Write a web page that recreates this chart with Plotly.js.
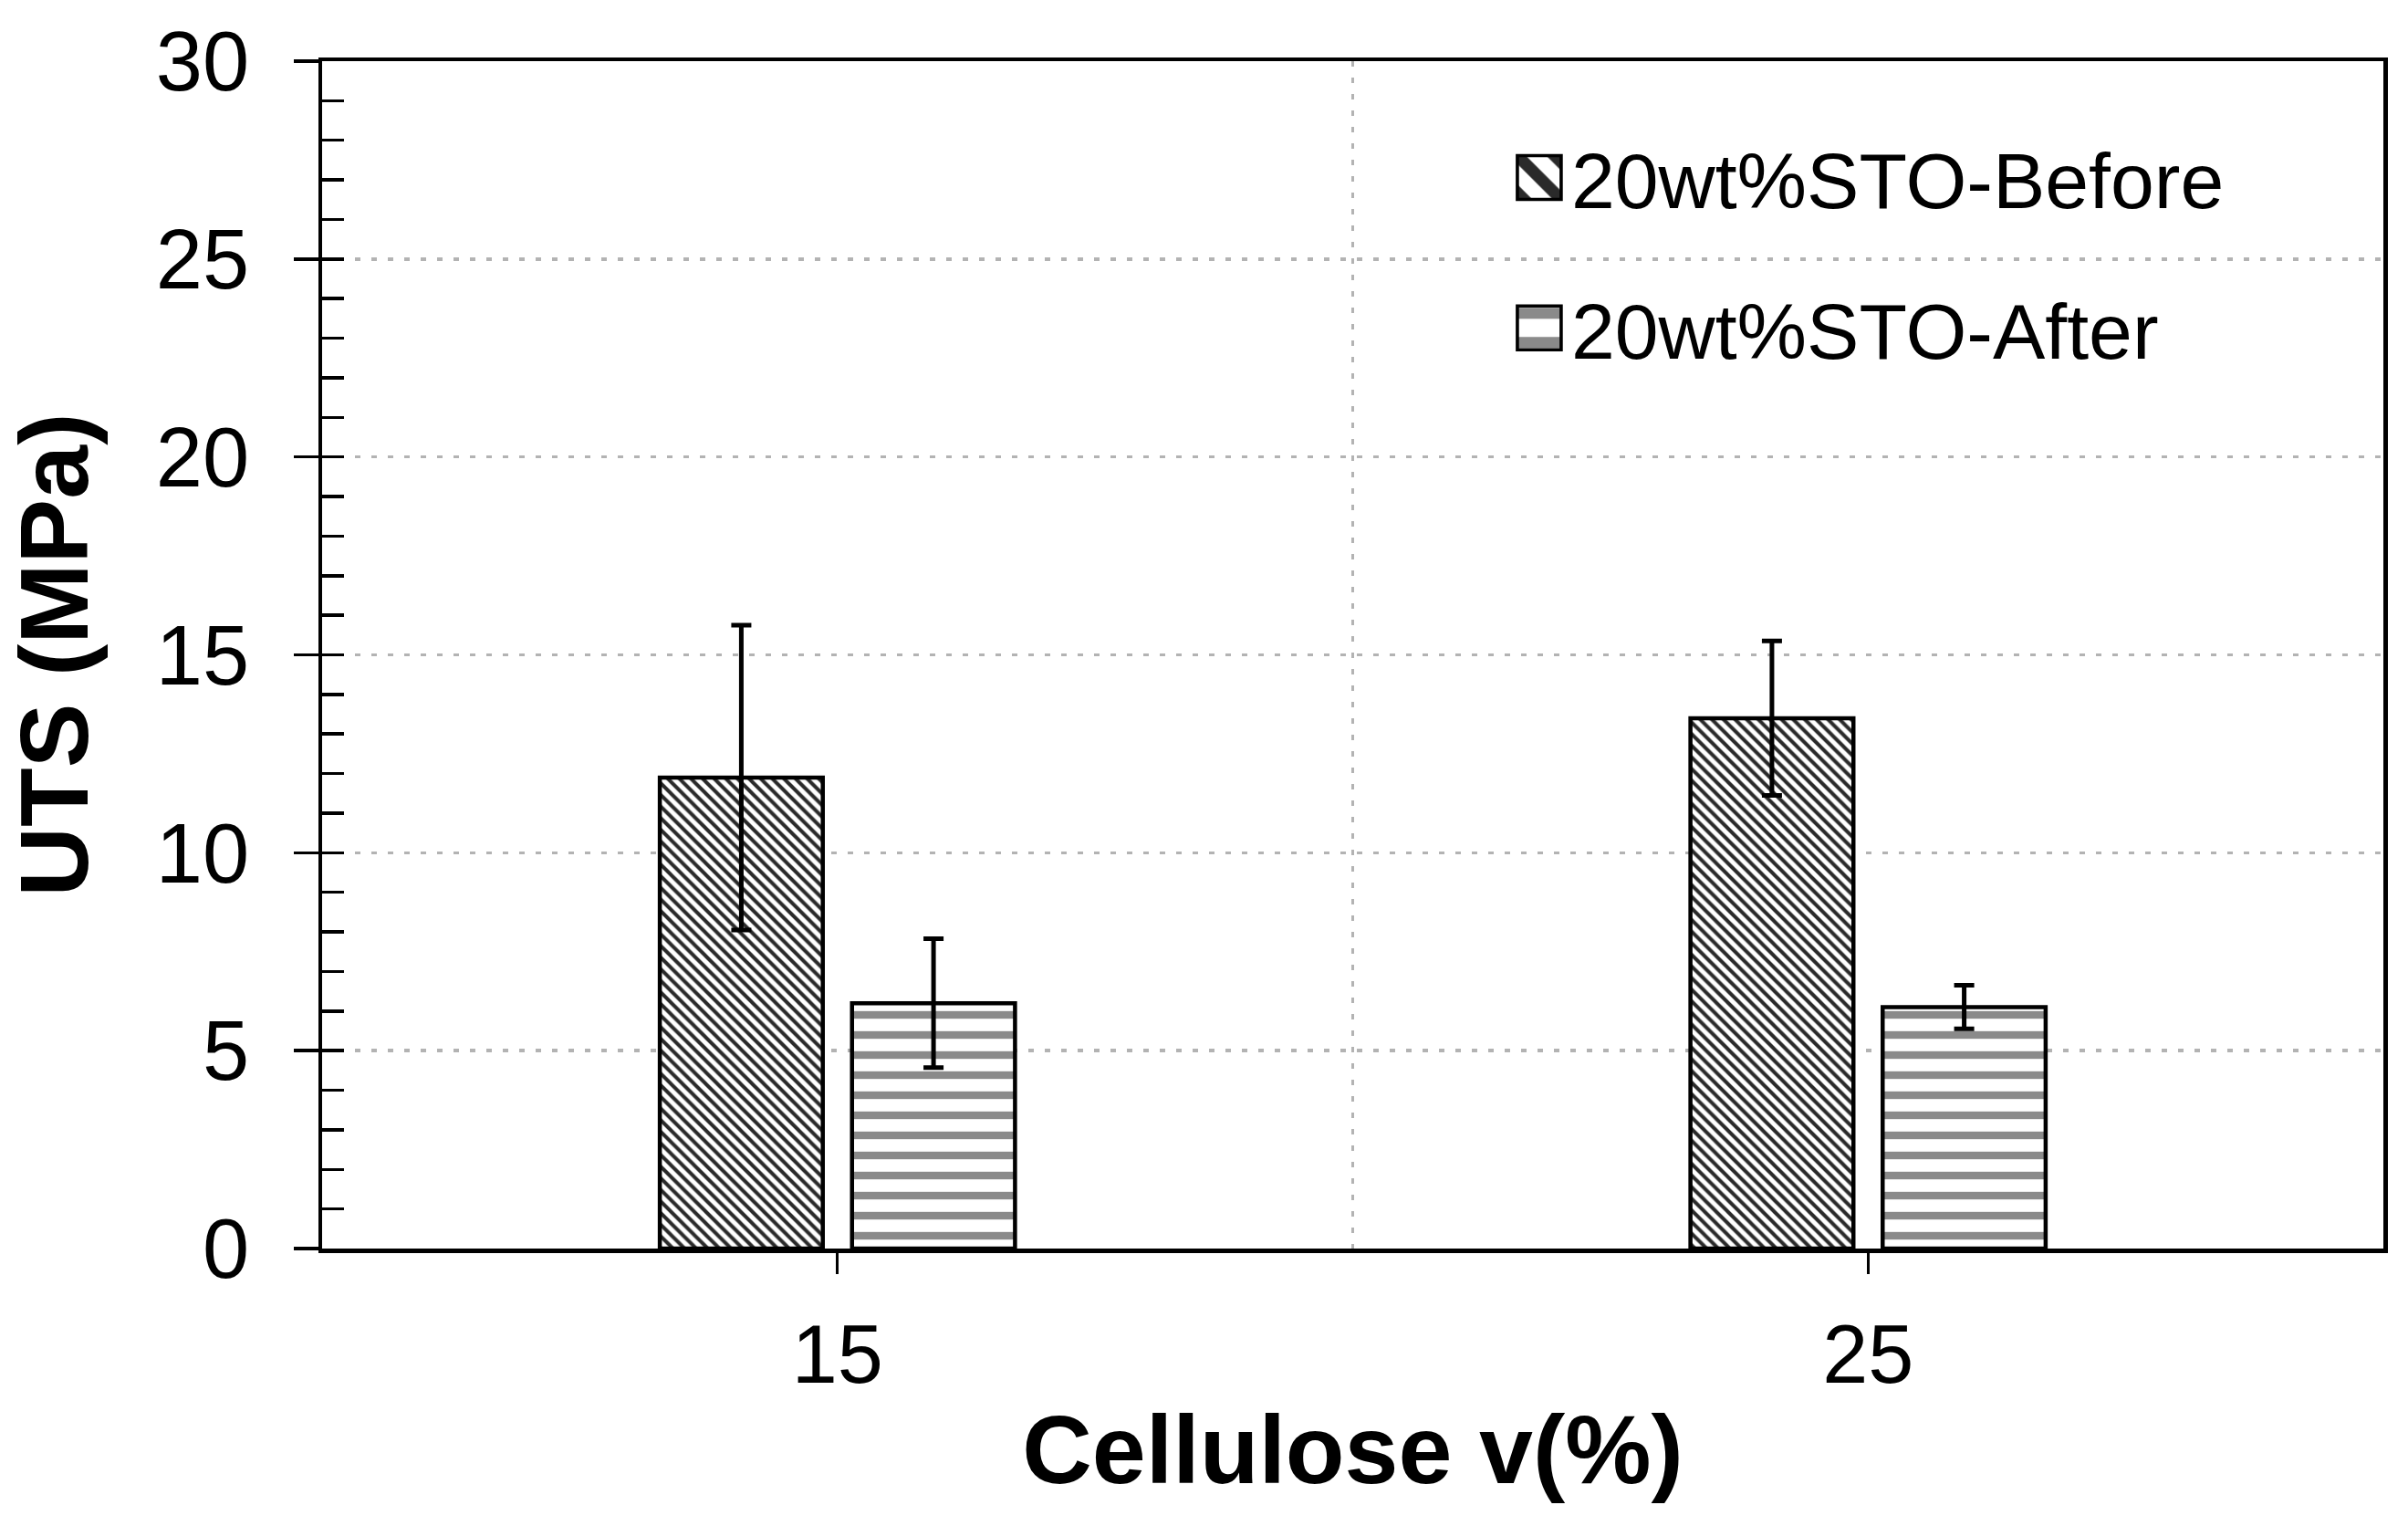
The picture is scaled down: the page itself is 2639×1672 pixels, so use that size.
<!DOCTYPE html>
<html><head><meta charset="utf-8">
<script src="https://cdn.plot.ly/plotly-3.0.1.min.js"></script>
<style>html,body{margin:0;padding:0;background:#fff}</style>
</head><body>
<div id="chart" style="width:2639px;height:1672px"></div>
<script>
const categories = ['15', '25'];
const seriesNames = ['20wt%STO-Before', '20wt%STO-After'];
const beforeValues = [11.9, 13.4];
const beforeErrors = [3.85, 1.95];
const afterValues = [6.2, 6.1];
const afterErrors = [1.63, 0.55];
const yTickVals = [0, 5, 10, 15, 20, 25, 30];
const categoryBoundaries = [0.5];
const xTitle = 'Cellulose v(%)';
const yTitle = 'UTS (MPa)';

const FONT = '"Liberation Sans", Arial, Helvetica, sans-serif';

const traces = [
  {
    type: 'bar', name: seriesNames[0], x: categories, y: beforeValues,
    legendgroup: 'a',
    error_y: {type: 'data', array: beforeErrors, visible: true, color: '#000', thickness: 5, width: 11},
    marker: {color: '#fff', line: {color: '#000', width: 4.5},
      pattern: {shape: '\\', fgcolor: '#2a2a2a', bgcolor: '#fff', size: 9, solidity: 0.45}}
  },
  {
    type: 'bar', name: seriesNames[1], x: categories, y: afterValues,
    legendgroup: 'b',
    error_y: {type: 'data', array: afterErrors, visible: true, color: '#000', thickness: 5, width: 11},
    marker: {color: '#fff', line: {color: '#000', width: 4.5},
      pattern: {shape: '-', fgcolor: '#8a8a8a', bgcolor: '#fff', size: 22, solidity: 0.38}}
  },
  // empty helper traces so the overlay axes (boundary gridline, inner minor ticks) are drawn
  {type: 'scatter', x: [], y: [], xaxis: 'x2', yaxis: 'y', showlegend: false, hoverinfo: 'skip'},
  {type: 'scatter', x: [], y: [], xaxis: 'x', yaxis: 'y2', showlegend: false, hoverinfo: 'skip'}
];

const gridStyle = {gridcolor: '#b3b3b3', gridwidth: 3.5, griddash: '6px,12px'};

const layout = {
  width: 2639, height: 1672,
  paper_bgcolor: '#fff', plot_bgcolor: '#fff',
  margin: {l: 353, r: 27, t: 67, b: 304},
  barmode: 'group', bargap: 0.627, bargroupgap: 0.152,
  font: {family: FONT, color: '#000', size: 90},
  showlegend: true,
  legend: {x: 0.575, y: 0.95, xanchor: 'left', yanchor: 'top', bgcolor: 'rgba(0,0,0,0)',
    font: {family: FONT, size: 86, color: '#000'}, tracegroupgap: 50, itemwidth: 60, traceorder: 'grouped'},
  xaxis: {
    type: 'category', range: [-0.5, 1.5],
    showline: true, linecolor: '#000', linewidth: 4.5, mirror: true,
    ticks: 'outside', ticklen: 23, tickwidth: 3, tickcolor: '#000',
    showgrid: false, zeroline: false,
    tickfont: {family: FONT, size: 90, color: '#000'}, ticklabelstandoff: 11,
    title: {text: xTitle, font: {family: FONT, size: 106, color: '#000', weight: 'bold'}, standoff: 20}
  },
  xaxis2: Object.assign({
    overlaying: 'x', anchor: 'y', type: 'linear', range: [-0.5, 1.5],
    tickvals: categoryBoundaries, showticklabels: false, ticks: '',
    showgrid: true, showline: false, zeroline: false
  }, gridStyle),
  yaxis: Object.assign({
    range: [0, 30], tickvals: yTickVals,
    showline: true, linecolor: '#000', linewidth: 4.5, mirror: true,
    ticks: 'outside', ticklen: 27, tickwidth: 3.5, tickcolor: '#000',
    showgrid: true, zeroline: false,
    tickfont: {family: FONT, size: 92, color: '#000'}, ticklabelstandoff: 30,
    title: {text: yTitle, font: {family: FONT, size: 106, color: '#000', weight: 'bold'}, standoff: 40}
  }, gridStyle),
  yaxis2: {
    overlaying: 'y', anchor: 'x', side: 'left', range: [0, 30], dtick: 1, tick0: 0,
    ticks: 'inside', ticklen: 24, tickwidth: 3.5, tickcolor: '#000',
    showticklabels: false, showgrid: false, showline: false, zeroline: false
  }
};

Plotly.newPlot('chart', traces, layout, {staticPlot: true, displayModeBar: false}).then(function () {
  document.querySelectorAll('.legend .legendpoints path').forEach(function (p) {
    p.setAttribute('transform', (p.getAttribute('transform') || '') + ' scale(4)');
    p.style.strokeWidth = '0.9px';
  });
});
</script>
</body></html>
